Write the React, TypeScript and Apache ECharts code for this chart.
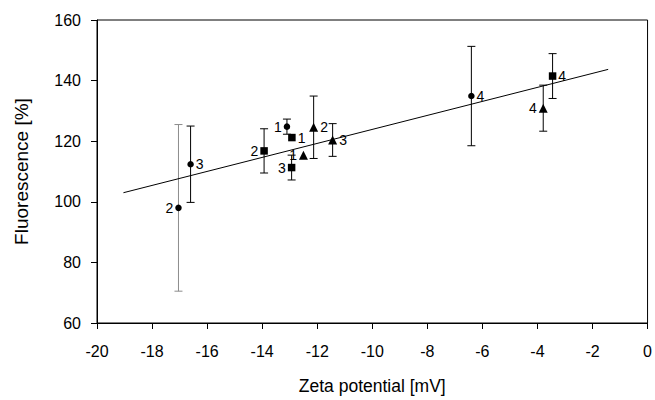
import React, { useEffect, useRef } from "react";
import * as echarts from "echarts";

// Circles
const circleX = [-17.04, -16.6, -13.1, -6.4];
const circleY = [98.0, 112.4, 124.8, 134.9];
const circleErr = [27.5, 12.6, 2.5, 16.4];
const circleLabels = ["2", "3", "1", "4"];
const circleLabelSide = ["left", "right", "left", "right"];

// Squares
const squareX = [-13.93, -12.92, -12.93, -3.45];
const squareY = [116.8, 121.2, 111.3, 141.5];
const squareErr = [7.3, 0, 4.1, 7.4];
const squareLabels = ["2", "1", "3", "4"];
const squareLabelSide = ["left", "right", "left", "right"];

// Triangles
const triX = [-12.5, -12.13, -11.44, -3.79];
const triY = [115.4, 124.6, 120.4, 130.9];
const triErr = [0, 10.3, 5.4, 7.6];
const triLabels = ["1", "2", "3", "4"];
const triLabelSide = ["left", "right", "right", "left"];

// Regression line end points
const fitX = [-19.04, -1.43];
const fitY = [103.0, 143.7];

const xTicks = [-20, 0, 2];
const yTicks = [60, 160, 20];

const FONT = "Liberation Sans, Arial, sans-serif";

function errSeries(xs: number[], ys: number[], errs: number[], grayFirst: boolean) {
  const data = xs.map((x, i) => [x, ys[i] - errs[i], ys[i] + errs[i], errs[i]]);
  return {
    type: "custom",
    z: 1,
    silent: true,
    renderItem: (params: any, api: any) => {
      const e = api.value(3);
      if (!e) return null;
      const x = api.value(0);
      const lo = api.coord([x, api.value(1)]);
      const hi = api.coord([x, api.value(2)]);
      const cw = 4;
      const color = grayFirst && params.dataIndex === 0 ? "#8c8c8c" : "#000";
      const st = { stroke: color, lineWidth: 1 };
      return {
        type: "group",
        children: [
          { type: "line", shape: { x1: lo[0], y1: lo[1], x2: hi[0], y2: hi[1] }, style: st },
          { type: "line", shape: { x1: lo[0] - cw, y1: lo[1], x2: lo[0] + cw, y2: lo[1] }, style: st },
          { type: "line", shape: { x1: hi[0] - cw, y1: hi[1], x2: hi[0] + cw, y2: hi[1] }, style: st },
        ],
      };
    },
    data,
  };
}

function markerSeries(xs: number[], ys: number[], labels: string[], sides: string[], symbol: string, size: number) {
  return {
    type: "scatter",
    z: 3,
    symbol,
    symbolSize: size,
    itemStyle: { color: "#000", opacity: 1 },
    label: {
      show: true,
      distance: 2,
      formatter: (p: any) => labels[p.dataIndex],
      color: "#000000",
      textBorderWidth: 0,
      textShadowBlur: 0,
      fontSize: 14,
      fontFamily: FONT,
    },
    data: xs.map((x, i) => ({
      value: [x, ys[i]],
      label: { position: sides[i] },
    })),
  };
}

export default function App() {
  const ref = useRef<HTMLDivElement>(null);
  useEffect(() => {
    document.body.style.margin = "0";
    const chart = echarts.init(ref.current!, null, { renderer: "svg" });
    chart.setOption({
      animation: false,
      backgroundColor: "#fff",
      grid: {
        left: 97,
        right: 7,
        top: 20,
        bottom: 77,
        show: true,
        borderColor: "#000",
        borderWidth: 1,
      },
      xAxis: {
        type: "value",
        min: xTicks[0],
        max: xTicks[1],
        interval: xTicks[2],
        name: "Zeta potential [mV]",
        nameLocation: "middle",
        nameGap: 54,
        nameTextStyle: { fontSize: 17.5, fontFamily: FONT, color: "#000" },
        axisLine: { show: true, onZero: false, lineStyle: { color: "#000", width: 1 } },
        axisTick: { show: true, inside: false, length: 6, lineStyle: { color: "#000" } },
        axisLabel: { fontSize: 16, fontFamily: FONT, color: "#000", margin: 20, showMinLabel: true, showMaxLabel: true },
        splitLine: { show: false },
      },
      yAxis: {
        type: "value",
        min: yTicks[0],
        max: yTicks[1],
        interval: yTicks[2],
        name: "Fluorescence [%]",
        nameLocation: "middle",
        nameGap: 66,
        nameTextStyle: { fontSize: 19, fontFamily: FONT, color: "#000" },
        axisLine: { show: true, onZero: false, lineStyle: { color: "#000", width: 1 } },
        axisTick: { show: true, inside: false, length: 6, lineStyle: { color: "#000" } },
        axisLabel: { fontSize: 16, fontFamily: FONT, color: "#000", margin: 16 },
        splitLine: { show: false },
      },
      series: [
        {
          type: "line",
          z: 2,
          silent: true,
          symbol: "none",
          lineStyle: { color: "#000", width: 1 },
          data: fitX.map((x, i) => [x, fitY[i]]),
        },
        errSeries(circleX, circleY, circleErr, true),
        errSeries(squareX, squareY, squareErr, false),
        errSeries(triX, triY, triErr, false),
        markerSeries(circleX, circleY, circleLabels, circleLabelSide, "circle", 6.5),
        markerSeries(squareX, squareY, squareLabels, squareLabelSide, "rect", 7.5),
        markerSeries(triX, triY, triLabels, triLabelSide, "triangle", 9),
      ],
    });
    return () => chart.dispose();
  }, []);
  return <div ref={ref} style={{ width: 655, height: 400 }} />;
}
